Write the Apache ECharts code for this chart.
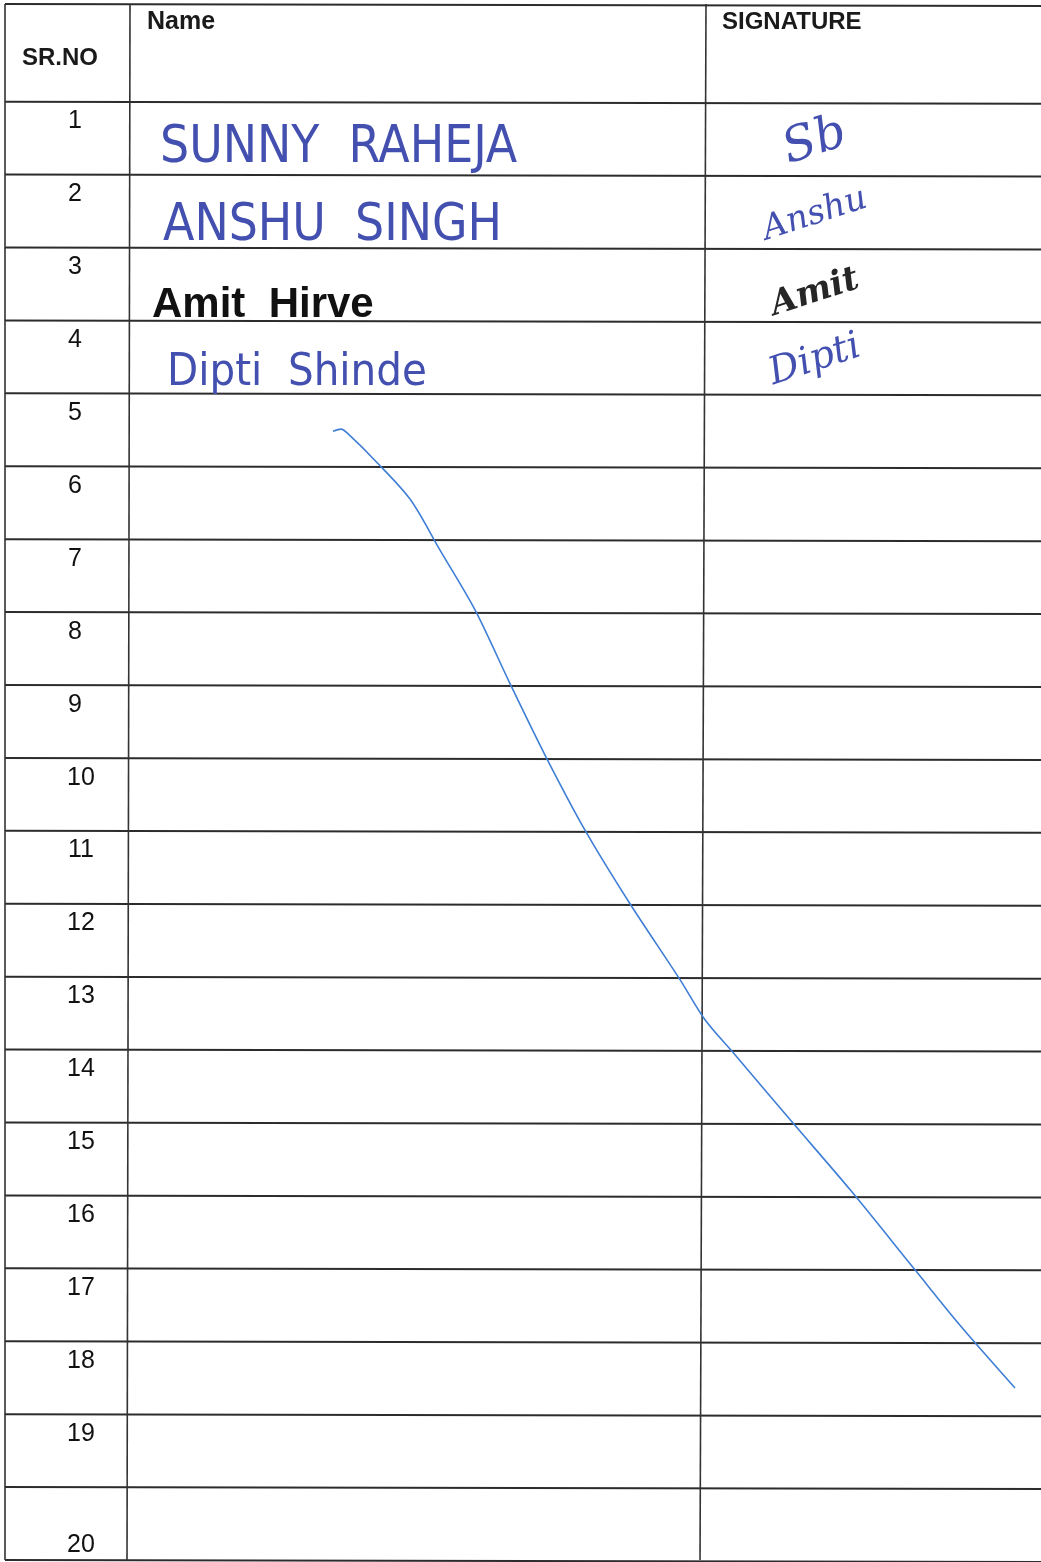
<!DOCTYPE html>
<html>
<head>
<meta charset="utf-8">
<script src="https://cdn.jsdelivr.net/npm/echarts@6/dist/echarts.min.js"></script>
<style>
  html, body { margin: 0; padding: 0; background: #fff; }
  #sheet { width: 1041px; height: 1562px; }
</style>
</head>
<body>
<div id="sheet"></div>
<script>
// header texts of the register
var headers = ['SR.NO', 'Name', 'SIGNATURE'];
// serial numbers printed in the first column
var serials = [1, 2, 3, 4, 5, 6, 7, 8, 9, 10, 11, 12, 13, 14, 15, 16, 17, 18, 19, 20];
// names written in the rows (only the first four filled)
var names = ['SUNNY  RAHEJA', 'ANSHU  SINGH', 'Amit  Hirve', 'Dipti  Shinde'];
var signatures = ['Sb', 'Anshu', 'Amit', 'Dipti'];
// pen stroke crossing out the empty rows : [x, row]
var penStroke = [
  [333, 4.52], [341, 4.49], [350, 4.58], [375, 4.92], [410, 5.45], [440, 6.15], [475, 6.97],
  [510, 7.98], [545, 8.96], [585, 9.99], [630, 11.0], [680, 12.04], [705, 12.59],
  [735, 13.07], [790, 13.96], [850, 14.92], [915, 16.02], [960, 16.78], [1015, 17.64]
];

var HEADER = 1.34; // header height in row units
var rowLines = [-HEADER];
for (var r = 0; r <= serials.length; r++) rowLines.push(r);
// column rules [x at top, x at bottom]
var colRules = [[5, 5], [130, 127], [706, 700]];

var inkBlue = '#4350b0';
var handFont = '"Liberation Sans Narrow", "DejaVu Sans Condensed", "Liberation Sans", sans-serif';
var nameStyle = [
  { color: inkBlue, fontSize: 51, fontWeight: 'normal', fontFamily: handFont },
  { color: inkBlue, fontSize: 51, fontWeight: 'normal', fontFamily: handFont },
  { color: '#111111', fontSize: 42, fontWeight: 'bold', fontFamily: '"Liberation Sans", sans-serif' },
  { color: inkBlue, fontSize: 45, fontWeight: 'normal', fontFamily: handFont }
];
var nameX = [160, 163, 152, 167];
var nameY = [0.64, 1.72, 2.80, 3.72];
var sigStyle = [
  { color: inkBlue, fontSize: 48, y: 0.55 },
  { color: inkBlue, fontSize: 34, y: 1.55 },
  { color: '#262626', fontSize: 34, y: 2.62, fontWeight: 'bold' },
  { color: inkBlue, fontSize: 38, y: 3.55 }
];

var chart = echarts.init(document.getElementById('sheet'));

var option = {
  animation: false,
  backgroundColor: '#ffffff',
  grid: { left: 0, right: 0, top: 4, bottom: 2 },
  xAxis: { type: 'value', min: 0, max: 1041, show: false },
  yAxis: { type: 'value', min: -HEADER, max: serials.length, inverse: true, show: false },
  graphic: [
    { type: 'text', left: 22, top: 46, style: { text: headers[0], font: 'bold 24px "Liberation Sans", sans-serif', fill: '#1a1a1a' } },
    { type: 'text', left: 147, top: 10, style: { text: headers[1], font: 'bold 25px "Liberation Sans", sans-serif', fill: '#1a1a1a' } },
    { type: 'text', left: 722, top: 10, style: { text: headers[2], font: 'bold 24px "Liberation Sans", sans-serif', fill: '#1a1a1a' } }
  ],
  series: [
    {
      // horizontal rules
      type: 'custom',
      data: rowLines,
      silent: true,
      renderItem: function (params, api) {
        var y = api.value(0);
        var a = api.coord([5, y]);
        var b = api.coord([1041, y]);
        return {
          type: 'line',
          shape: { x1: a[0], y1: a[1], x2: b[0], y2: b[1] + 2 },
          style: { stroke: '#2c2c2c', lineWidth: 2 }
        };
      }
    },
    {
      // vertical rules
      type: 'custom',
      data: colRules,
      silent: true,
      renderItem: function (params, api) {
        var a = api.coord([api.value(0), -HEADER]);
        var b = api.coord([api.value(1), serials.length]);
        return {
          type: 'line',
          shape: { x1: a[0], y1: a[1], x2: b[0], y2: b[1] },
          style: { stroke: '#333333', lineWidth: 1.6 }
        };
      }
    },
    {
      // serial numbers
      type: 'scatter',
      symbolSize: 0,
      silent: true,
      itemStyle: { opacity: 1 },
      data: serials.map(function (n, i) {
        return [n < 10 ? 75 : 81, n === serials.length ? i + 0.79 : i + 0.27, n];
      }),
      label: {
        show: true,
        position: 'inside',
        formatter: function (p) { return p.value[2]; },
        fontSize: 25,
        color: '#111111',
        fontFamily: '"Liberation Sans", sans-serif'
      }
    },
    {
      // handwritten names
      type: 'scatter',
      symbolSize: 0,
      silent: true,
      itemStyle: { opacity: 1 },
      data: names.map(function (n, i) {
        return { value: [nameX[i], nameY[i], n], label: nameStyle[i] };
      }),
      label: {
        show: true,
        position: 'right',
        distance: 0,
        formatter: function (p) { return p.value[2]; }
      }
    },
    {
      // signatures
      type: 'scatter',
      symbolSize: 0,
      silent: true,
      itemStyle: { opacity: 1 },
      data: signatures.map(function (s, i) {
        return {
          value: [815, sigStyle[i].y, s],
          label: {
            color: sigStyle[i].color,
            fontSize: sigStyle[i].fontSize,
            fontWeight: sigStyle[i].fontWeight || 'normal'
          }
        };
      }),
      label: {
        show: true,
        position: 'inside',
        rotate: 18,
        fontStyle: 'italic',
        fontFamily: '"DejaVu Serif", "Liberation Serif", serif',
        formatter: function (p) { return p.value[2]; }
      }
    },
    {
      // pen stroke
      type: 'line',
      data: penStroke,
      smooth: 0.3,
      symbol: 'none',
      silent: true,
      lineStyle: { color: '#3f7fd6', width: 1.6 }
    }
  ]
};

chart.setOption(option);
</script>
</body>
</html>
